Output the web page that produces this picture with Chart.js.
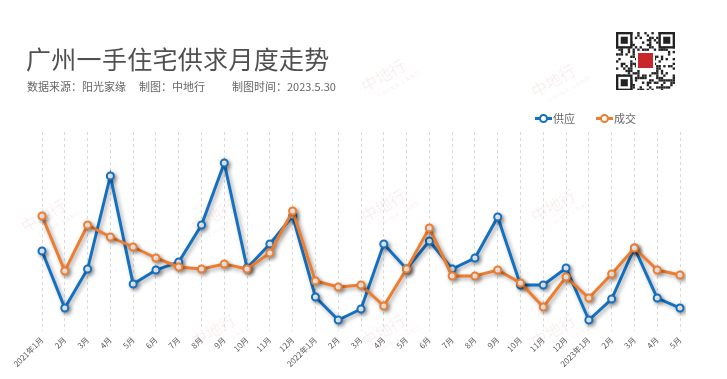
<!DOCTYPE html>
<html>
<head>
<meta charset="utf-8">
<script src="https://cdn.jsdelivr.net/npm/chart.js@4"></script>
<style>
  body { margin: 0; background: #fff; font-family: "Noto Sans CJK SC", "Noto Sans", sans-serif; }
  #wrap { position: relative; width: 727px; height: 379px; overflow: hidden; }
  #chart { position: absolute; left: 0; top: 0; }
  .title { position: absolute; left: 26px; top: 40px; font-size: 25px; color: #505050; letter-spacing: 0.3px; }
  .sub { position: absolute; top: 78px; font-size: 11px; color: #666; }
  .legend { position: absolute; top: 110px; font-size: 11px; color: #666; display: flex; align-items: center; }
  .mk { position: relative; width: 17px; height: 12px; margin-right: 1px; }
  .mk i { position: absolute; left: 0; top: 5px; width: 17px; height: 3px; }
  .mk b { position: absolute; left: 4px; top: 2px; width: 5px; height: 5px; border-radius: 50%; background: #fff; border: 2px solid; }
  .wm { position: absolute; transform: rotate(-30deg); color: rgba(200, 120, 120, 0.13); font-size: 16px; white-space: nowrap; }
  .wm small { display: block; font-size: 6px; letter-spacing: 1px; margin-left: 10px; font-family: "DejaVu Sans", sans-serif; }
  #qr { position: absolute; left: 616px; top: 32px; }
</style>
</head>
<body>
<div id="wrap">
  <canvas id="chart" width="727" height="379"></canvas>
  <div class="title">广州一手住宅供求月度走势</div>
  <div class="sub" style="left:27px">数据来源：阳光家缘</div>
  <div class="sub" style="left:139px">制图：中地行</div>
  <div class="sub" style="left:232px">制图时间：2023.5.30</div>
  <div class="legend" style="left:535px"><span class="mk"><i style="background:#1470c0"></i><b style="border-color:#1470c0"></b></span>供应</div>
  <div class="legend" style="left:596px"><span class="mk"><i style="background:#ee7d30"></i><b style="border-color:#ee7d30"></b></span>成交</div>
  <canvas id="qr" width="59" height="58"></canvas>
</div>
<script>
const months = ["2021年1月", "2月", "3月", "4月", "5月", "6月", "7月", "8月", "9月", "10月", "11月", "12月",
  "2022年1月", "2月", "3月", "4月", "5月", "6月", "7月", "8月", "9月", "10月", "11月", "12月",
  "2023年1月", "2月", "3月", "4月", "5月"];

// 供应 (no y axis in the picture, values read as relative heights)
const supply = [80, 23, 62, 155, 47, 61, 69, 106, 168, 63, 87, 115,
  34, 11, 22, 87, 62, 90, 62, 73, 114, 46, 46, 63,
  11, 32, 83, 33, 23];

// 成交
const deals = [115, 60, 106, 94, 84, 73, 64, 62, 67, 62, 78, 120,
  50, 44, 46, 25, 62, 103, 55, 55, 61, 48, 24, 54,
  33, 57, 83, 61, 56];

const yMin = 0;
const yMax = 199;

// faint watermarks
const wmSpots = [[190, 200], [360, 60], [360, 190], [530, 65], [530, 190], [190, 315], [360, 315], [530, 315], [20, 200]];
const wrap = document.getElementById("wrap");
wmSpots.forEach(([x, y]) => {
    const d = document.createElement("div");
    d.className = "wm";
    d.style.left = x + "px";
    d.style.top = y + "px";
    d.innerHTML = "中地行<small>CHINA LAND</small>";
    wrap.insertBefore(d, wrap.firstChild);
});

// qr-like badge
(function drawQr() {
    const c = document.getElementById("qr");
    const g = c.getContext("2d");
    const n = 25, s = 59 / n;
    g.fillStyle = "#fff";
    g.fillRect(0, 0, 59, 58);
    g.fillStyle = "#222";
    for (let r = 0; r < n; r++) {
        for (let k = 0; k < n; k++) {
            if (((r * 7 + k * 13) ^ (r * k)) % 3 === 0) g.fillRect(k * s, r * s, s, s);
        }
    }
    [[0, 0], [n - 7, 0], [0, n - 7]].forEach(([cx, cy]) => {
        g.fillStyle = "#222"; g.fillRect(cx * s, cy * s, 7 * s, 7 * s);
        g.fillStyle = "#fff"; g.fillRect((cx + 1) * s, (cy + 1) * s, 5 * s, 5 * s);
        g.fillStyle = "#222"; g.fillRect((cx + 2) * s, (cy + 2) * s, 3 * s, 3 * s);
    });
    g.fillStyle = "#fff"; g.fillRect(20, 19, 19, 19);
    g.fillStyle = "#c8282c"; g.fillRect(22, 21, 15, 15);
})();

const shadowPlugin = {
    id: "shadow",
    beforeDatasetsDraw(chart) {
        const ctx = chart.ctx;
        ctx.save();
        ctx.shadowColor = "rgba(0, 0, 0, 0.35)";
        ctx.shadowBlur = 4;
        ctx.shadowOffsetX = 2;
        ctx.shadowOffsetY = 2;
    },
    afterDatasetsDraw(chart) {
        chart.ctx.restore();
    }
};

new Chart(document.getElementById("chart"), {
    type: "line",
    data: {
        labels: months,
        datasets: [
            {
                label: "供应",
                data: supply,
                borderColor: "#1470c0",
                pointBorderColor: "#1470c0",
                order: 2
            },
            {
                label: "成交",
                data: deals,
                borderColor: "#ee7d30",
                pointBorderColor: "#ee7d30",
                order: 1
            }
        ]
    },
    options: {
        responsive: false,
        animation: false,
        layout: {
            padding: { left: 42, right: 47, top: 132, bottom: 0 }
        },
        elements: {
            line: { borderWidth: 3, tension: 0 },
            point: { radius: 3.5, borderWidth: 2, backgroundColor: "#fff" }
        },
        plugins: {
            legend: { display: false },
            tooltip: { enabled: false }
        },
        scales: {
            x: {
                offset: false,
                grid: {
                    color: "#d9d9d9",
                    lineWidth: 1,
                    drawTicks: false
                },
                border: { display: false, dash: [3, 3] },
                ticks: {
                    autoSkip: false,
                    minRotation: 45,
                    maxRotation: 45,
                    padding: 4,
                    color: "#595959",
                    font: { size: 8, family: "Noto Sans CJK SC" }
                },
                afterFit(scale) {
                    scale.height = 48;
                }
            },
            y: {
                display: false,
                min: yMin,
                max: yMax
            }
        }
    },
    plugins: [shadowPlugin]
});
</script>
</body>
</html>
